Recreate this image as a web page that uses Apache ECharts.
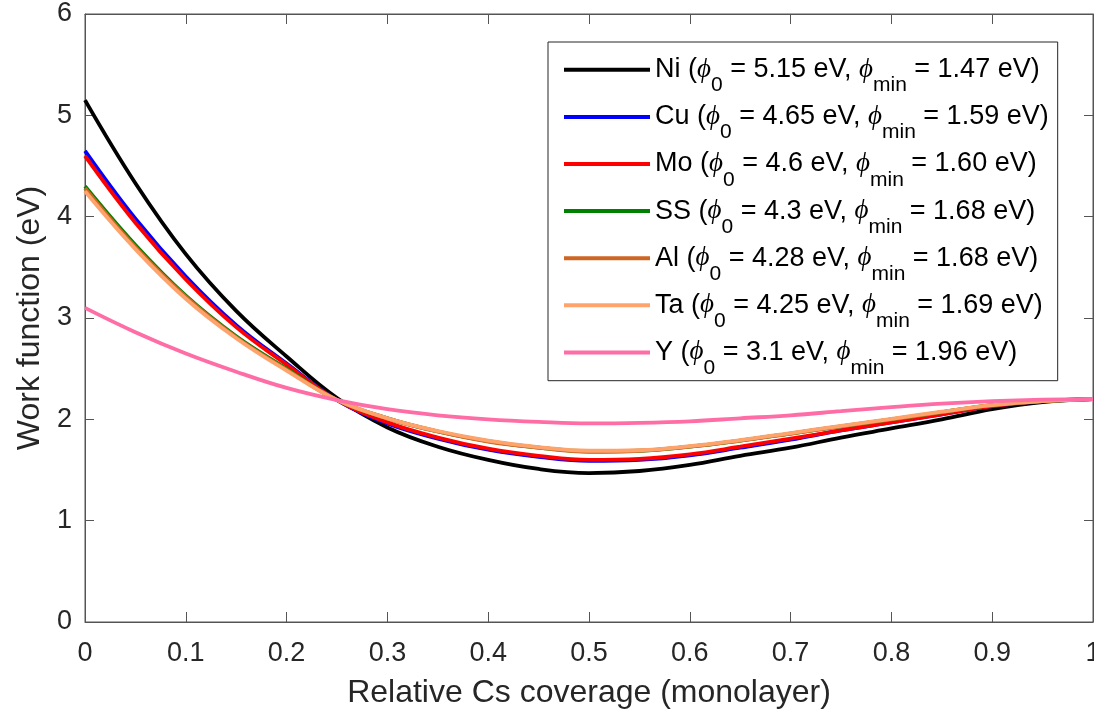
<!DOCTYPE html>
<html><head><meta charset="utf-8">
<script src="https://cdn.jsdelivr.net/npm/echarts@6/dist/echarts.min.js"></script>
<style>html,body{margin:0;padding:0;background:#fff}#c{width:1094px;height:715px}</style>
</head><body><div id="c"></div>
<script>
const theta = [0,0.05,0.1,0.15,0.2,0.25,0.3,0.35,0.4,0.45,0.5,0.55,0.6,0.65,0.7,0.75,0.8,0.85,0.9,0.95,1];
const niVals = [5.15,4.33,3.63,3.07,2.62,2.21,1.92,1.73,1.60,1.51,1.47,1.49,1.55,1.64,1.72,1.82,1.91,2.00,2.10,2.17,2.20];
const cuVals = [4.65,3.98,3.41,2.93,2.55,2.19,1.96,1.81,1.70,1.63,1.59,1.60,1.645,1.72,1.80,1.89,1.97,2.05,2.13,2.18,2.20];
const moVals = [4.60,3.94,3.38,2.91,2.54,2.19,1.97,1.82,1.71,1.64,1.60,1.61,1.655,1.73,1.81,1.89,1.97,2.05,2.13,2.18,2.20];
const ssVals = [4.30,3.72,3.22,2.82,2.50,2.19,2.01,1.88,1.785,1.72,1.685,1.69,1.73,1.79,1.86,1.93,2.00,2.07,2.14,2.18,2.20];
const alVals = [4.28,3.70,3.21,2.81,2.49,2.19,2.01,1.88,1.78,1.72,1.68,1.69,1.73,1.79,1.86,1.93,2.00,2.07,2.14,2.18,2.20];
const taVals = [4.25,3.68,3.19,2.80,2.48,2.19,2.01,1.885,1.79,1.725,1.69,1.695,1.735,1.795,1.865,1.935,2.005,2.075,2.14,2.18,2.20];
const yVals  = [3.10,2.86,2.65,2.47,2.31,2.19,2.10,2.04,2.00,1.975,1.96,1.965,1.98,2.01,2.04,2.08,2.12,2.155,2.18,2.195,2.20];

const names = ['Ni','Cu','Mo','SS','Al','Ta','Y'];
const phi0 = ['5.15','4.65','4.6','4.3','4.28','4.25','3.1'];
const phiMin = ['1.47','1.59','1.60','1.68','1.68','1.69','1.96'];
const colors = ['#000000','#0000FF','#FF0000','#008000','#CC6622','#FFA36C','#FF6DA6'];
const allVals = [niVals,cuVals,moVals,ssVals,alVals,taVals,yVals];

const xTitle = 'Relative Cs coverage (monolayer)';
const yTitle = 'Work function (eV)';

const axisCol = '#555555';
const textCol = '#262626';
const sans = "'Liberation Sans', Arial, Helvetica, sans-serif";

const chart = echarts.init(document.getElementById('c'), null, {renderer:'canvas'});

const series = names.map((n,i)=>({
  name: n, type:'line', xAxisIndex:0, yAxisIndex:0,
  data: theta.map((t,j)=>[t, allVals[i][j]]),
  symbol:'none', smooth:0.4, color: colors[i],
  lineStyle:{width:3.8, color: colors[i]}, z: 2+i
}));

const option = {
  animation:false,
  backgroundColor:'#ffffff',
  grid:{left:85, right:1, top:14, bottom:93, containLabel:false, outerBoundsMode:'none',
        show:true, borderColor:axisCol, borderWidth:1, backgroundColor:'transparent'},
  xAxis:[{
    type:'value', min:0, max:1, interval:0.1, position:'bottom',
    name:xTitle, nameLocation:'middle', nameGap:55,
    nameTextStyle:{fontFamily:sans, fontSize:32, color:textCol},
    axisLine:{show:true, onZero:false, lineStyle:{color:axisCol, width:1}},
    axisTick:{show:true, inside:true, length:10, lineStyle:{color:axisCol}},
    axisLabel:{fontFamily:sans, fontSize:27, color:textCol, margin:18},
    splitLine:{show:false}
  },{
    type:'value', min:0, max:1, interval:0.1, position:'top',
    axisLine:{show:true, onZero:false, lineStyle:{color:axisCol, width:1}},
    axisTick:{show:true, inside:true, length:10, lineStyle:{color:axisCol}},
    axisLabel:{show:false}, splitLine:{show:false}
  }],
  yAxis:[{
    type:'value', min:0, max:6, interval:1, position:'left',
    name:yTitle, nameLocation:'middle', nameGap:39,
    nameTextStyle:{fontFamily:sans, fontSize:32, color:textCol},
    axisLine:{show:true, onZero:false, lineStyle:{color:axisCol, width:1}},
    axisTick:{show:true, inside:true, length:9, lineStyle:{color:axisCol}},
    axisLabel:{fontFamily:sans, fontSize:27, color:textCol, margin:13},
    splitLine:{show:false}
  },{
    type:'value', min:0, max:6, interval:1, position:'right',
    axisLine:{show:true, onZero:false, lineStyle:{color:axisCol, width:1}},
    axisTick:{show:true, inside:true, length:9, lineStyle:{color:axisCol}},
    axisLabel:{show:false}, splitLine:{show:false}
  }],
  legend:{
    data:names, orient:'vertical', left:548, top:42,
    padding:[5,9,2,16], itemGap:-2, itemWidth:86, itemHeight:4, icon:'rect',
    backgroundColor:'#ffffff', borderColor:'#262626', borderWidth:1, borderRadius:0,
    textStyle:{fontFamily:sans, fontSize:27, color:'#000', lineHeight:45.6,
      rich:{
        phi:{fontFamily:"'Liberation Serif','DejaVu Serif',serif", fontStyle:'italic', fontSize:27, color:'#000'},
        sub:{fontFamily:sans, fontSize:21, color:'#000', height:14, verticalAlign:'bottom'}
      }},
    formatter:function(name){
      const i = names.indexOf(name);
      return name + ' ({phi|\u03D5}{sub|0} = ' + phi0[i] + ' eV, {phi|\u03D5}{sub|min} = ' + phiMin[i] + ' eV)';
    }
  },
  series: series
};
chart.setOption(option);
</script></body></html>
